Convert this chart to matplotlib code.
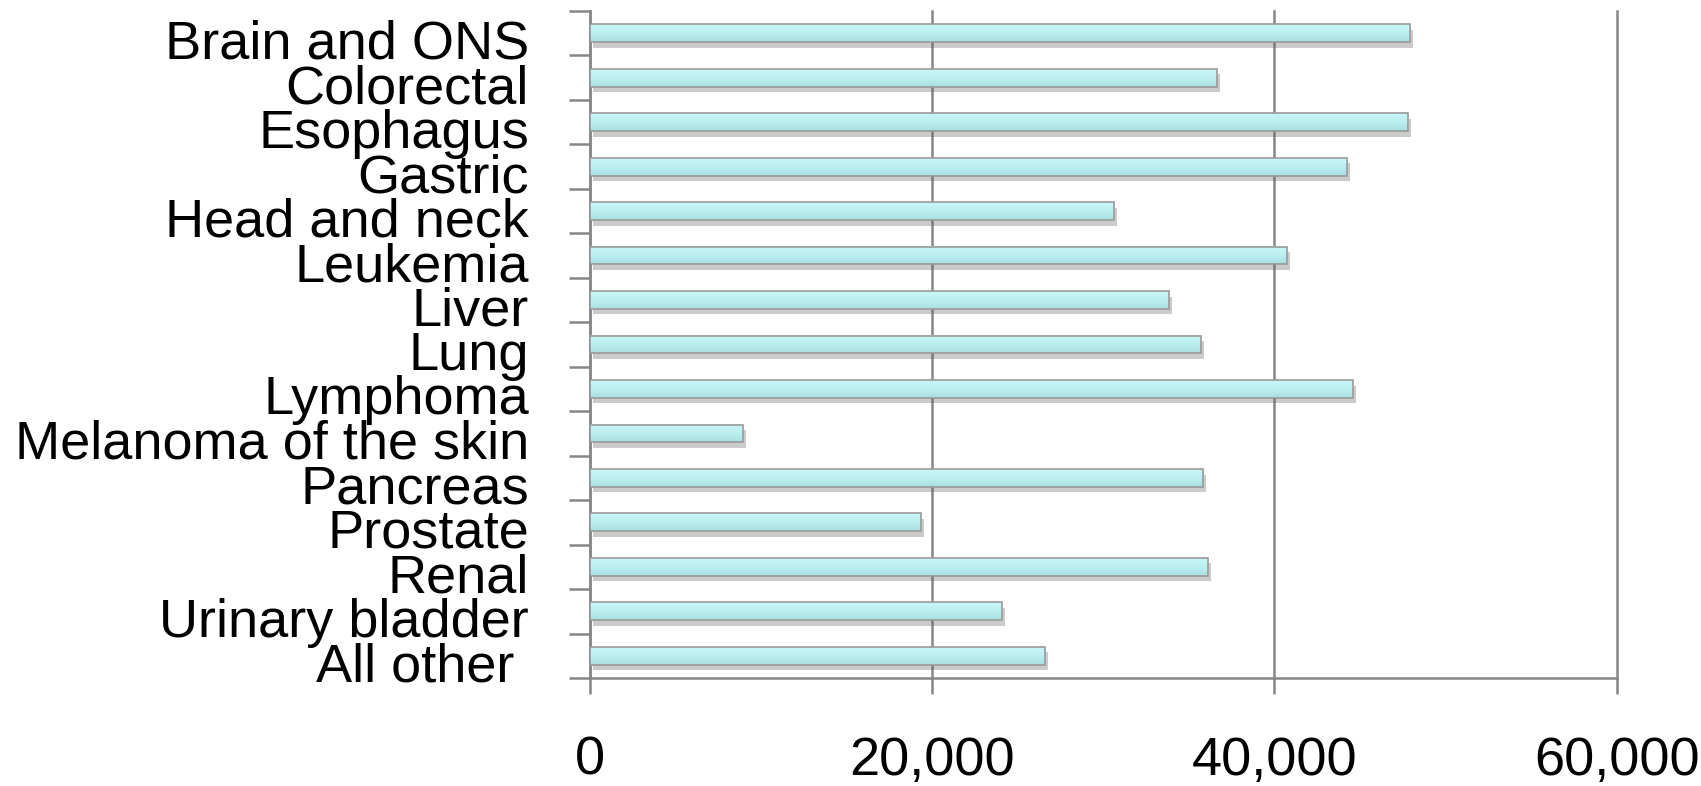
import matplotlib
matplotlib.use("Agg")
import matplotlib.pyplot as plt
import matplotlib.patheffects as pe
import numpy as np
from matplotlib.colors import LinearSegmentedColormap
from matplotlib.ticker import FuncFormatter
from matplotlib.transforms import ScaledTranslation


CATEGORIES = [
    "Brain and ONS",
    "Colorectal",
    "Esophagus",
    "Gastric",
    "Head and neck",
    "Leukemia",
    "Liver",
    "Lung",
    "Lymphoma",
    "Melanoma of the skin",
    "Pancreas",
    "Prostate",
    "Renal",
    "Urinary bladder",
    "All other ",
]
VALUES = [
    47950, 36630, 47830, 44230, 30630, 40720, 33840, 35700,
    44580, 8940, 35840, 19370, 36140, 24070, 26600,
]
X_TICKS = [0, 20000, 40000, 60000]

AXIS_GREY = "#878787"
EDGE_GREY = "#9a9a9a"
BAR_HEIGHT = 0.4
FONT_SIZE = 39


def main() -> None:
    plt.rcParams["font.family"] = ["Liberation Sans", "DejaVu Sans"]
    fig = plt.figure(figsize=(17.01, 7.86), dpi=100)
    ax = fig.add_axes([0.3469, 0.1374, 0.6035, 0.8486])

    ypos = np.arange(len(CATEGORIES))
    cmap = LinearSegmentedColormap.from_list("bar", ["#c8f7f8", "#bdeff1", "#a9dfe1"])
    grad = np.linspace(0, 1, 64).reshape(-1, 1)

    # white base with drop shadow, gradient fill, then outline on top
    ax.barh(
        ypos, VALUES, height=BAR_HEIGHT, color="white", edgecolor="none", zorder=2,
        path_effects=[pe.SimplePatchShadow(offset=(2, -4), shadow_rgbFace="#555555", alpha=0.3), pe.Normal()],
    )
    for y, v in zip(ypos, VALUES):
        ax.imshow(
            grad, extent=(0, v, y + BAR_HEIGHT / 2, y - BAR_HEIGHT / 2),
            aspect="auto", cmap=cmap, zorder=3, interpolation="bilinear",
        )
    ax.barh(ypos, VALUES, height=BAR_HEIGHT, color="none", edgecolor=EDGE_GREY, linewidth=1.2, zorder=4)

    ax.set_xlim(0, 60000)
    ax.set_ylim(len(CATEGORIES) - 0.5, -0.5)

    ax.set_xticks(X_TICKS)
    ax.xaxis.set_major_formatter(FuncFormatter(lambda v, _: f"{int(v):,}"))
    ax.tick_params(axis="x", direction="out", length=11.5, width=1.8, color=AXIS_GREY,
                   labelsize=FONT_SIZE, pad=30)
    ax.grid(axis="x", color=AXIS_GREY, linewidth=1.8, zorder=1)
    for line in ax.get_xgridlines():
        line.set_clip_on(False)

    ax.set_yticks(ypos)
    ax.set_yticklabels(CATEGORIES)
    ax.set_yticks(np.arange(len(CATEGORIES) + 1) - 0.5, minor=True)
    ax.tick_params(axis="y", which="major", length=0, labelsize=FONT_SIZE, pad=44)
    ax.tick_params(axis="y", which="minor", direction="out", length=15, width=1.8, color=AXIS_GREY)
    shift = ScaledTranslation(0, -0.06, fig.dpi_scale_trans)
    for label in ax.get_yticklabels():
        label.set_transform(label.get_transform() + shift)

    for side in ("top", "right"):
        ax.spines[side].set_visible(False)
    for side in ("left", "bottom"):
        ax.spines[side].set_color(AXIS_GREY)
        ax.spines[side].set_linewidth(1.8)
    ax.set_axisbelow(True)

    fig.savefig("out.png", dpi=100, facecolor="white")
    plt.close(fig)


if __name__ == "__main__":
    main()
